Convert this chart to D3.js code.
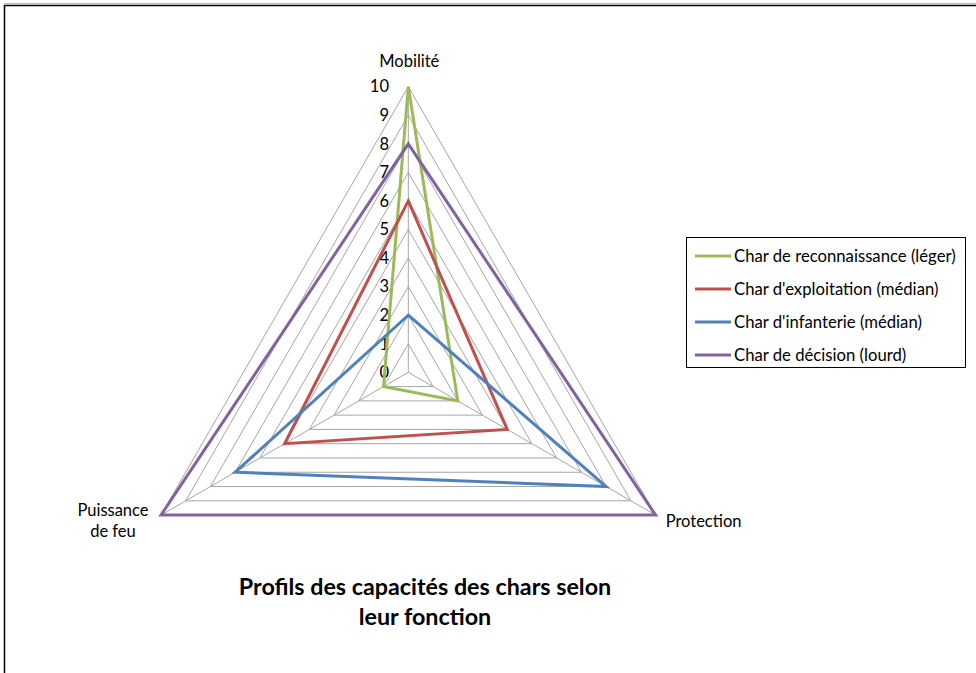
<!DOCTYPE html>
<html><head><meta charset="utf-8">
<script src="https://cdn.jsdelivr.net/npm/d3@7"></script>
<style>html,body{margin:0;padding:0;background:#fff;}svg{display:block;}</style>
</head><body>
<svg id="c" width="976" height="673"></svg>
<script>
const axes = ["Mobilité", "Protection", "Puissance de feu"];
const seriesNames = ["Char de reconnaissance (léger)", "Char d'exploitation (médian)", "Char d'infanterie (médian)", "Char de décision (lourd)"];
const reconnaissance = [10, 2, 1];
const exploitation = [6, 4, 5];
const infanterie = [2, 8, 7];
const decision = [8, 10, 10];
const tickValues = [0,1,2,3,4,5,6,7,8,9,10];
const colors = ["#9BBB59", "#C0504D", "#4F81BD", "#8064A2"];
const titleLines = ["Profils des capacités des chars selon", "leur fonction"];

const svg = d3.select("#c");
const font = "Lato, 'Open Sans', sans-serif";
// frame
svg.append("rect").attr("x",4.5).attr("y",5.5).attr("width",980).attr("height",700)
  .attr("fill","none").attr("stroke","#000").attr("stroke-width",1.5);
svg.append("line").attr("x1",4).attr("x2",976).attr("y1",3.5).attr("y2",3.5).attr("stroke","#bbb");

const cx = 408.3, cy = 372.3, R = 285.6;
const r = d3.scaleLinear().domain([0,10]).range([0,R]);
const ang = d3.scalePoint().domain(axes).range([0, 4*Math.PI/3]);
function pt(a, v){ const t = ang(a); return [cx + r(v)*Math.sin(t), cy - r(v)*Math.cos(t)]; }
const g = svg.append("g");
const line = d3.line();
tickValues.filter(v=>v>0).forEach(v=>{
  g.append("path").attr("d", line(axes.map(a=>pt(a,v))) + "Z")
   .attr("fill","none").attr("stroke","#a6a6a6").attr("stroke-width",1);
});
axes.forEach(a=>{
  const p = pt(a,10);
  g.append("line").attr("x1",cx).attr("y1",cy).attr("x2",p[0]).attr("y2",p[1])
   .attr("stroke","#a6a6a6").attr("stroke-width",1);
});
tickValues.forEach(v=>{
  g.append("text").attr("x", 389).attr("y", cy - r(v)).attr("dy","0.35em")
   .attr("text-anchor","end").attr("font-family",font).attr("font-size",16.5).attr("fill","#000").text(v);
});
const all = [reconnaissance, exploitation, infanterie, decision];
all.forEach((s,i)=>{
  g.append("path").attr("d", line(axes.map((a,j)=>pt(a,s[j]))) + "Z")
   .attr("fill","none").attr("stroke",colors[i]).attr("stroke-width",3).attr("stroke-linejoin","miter");
});
const p0 = pt(axes[0],10), p1 = pt(axes[1],10), p2 = pt(axes[2],10);
svg.append("text").attr("x",p0[0]+1).attr("y",p0[1]-20).attr("text-anchor","middle")
  .attr("font-family",font).attr("font-size",16.5).text(axes[0]);
svg.append("text").attr("x",p1[0]+10).attr("y",p1[1]+12).attr("text-anchor","start")
  .attr("font-family",font).attr("font-size",16.5).text(axes[1]);
const pf = svg.append("text").attr("text-anchor","middle").attr("font-family",font).attr("font-size",16.5);
pf.append("tspan").attr("x",p2[0]-48).attr("y",p2[1]+1).text("Puissance");
pf.append("tspan").attr("x",p2[0]-48).attr("y",p2[1]+22).text("de feu");
const lg = svg.append("g");
lg.append("rect").attr("x",686.5).attr("y",237.5).attr("width",279).attr("height",130)
  .attr("fill","#fff").attr("stroke","#000").attr("stroke-width",1);
seriesNames.forEach((n,i)=>{
  const y = 256 + i*33;
  lg.append("line").attr("x1",695).attr("x2",731).attr("y1",y).attr("y2",y)
    .attr("stroke",colors[i]).attr("stroke-width",3);
  lg.append("text").attr("x",734).attr("y",y).attr("dy","0.35em").attr("font-family",font)
    .attr("font-size",16.7).text(n);
});
titleLines.forEach((t,i)=>{
  svg.append("text").attr("x",425).attr("y",595 + i*30).attr("text-anchor","middle")
    .attr("font-family",font).attr("font-weight","bold").attr("font-size",23.3).text(t);
});
</script>
</body></html>
